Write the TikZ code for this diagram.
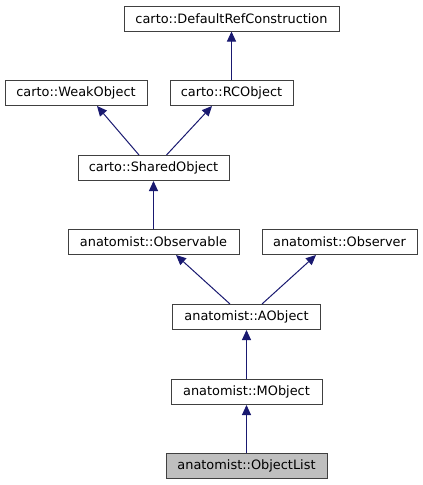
\documentclass[tikz,border=0pt]{standalone}
\usepackage{fontspec}
\setmainfont{DejaVu Sans}
\usetikzlibrary{arrows.meta}
\definecolor{edgeblue}{HTML}{191970}
\definecolor{boxgray}{HTML}{BFBFBF}
\definecolor{boxline}{HTML}{404040}
\begin{document}
\begin{tikzpicture}[x=1pt,y=-1pt,
  cls/.style={draw=boxline, line width=1pt, minimum height=25pt, inner sep=0pt, font=\fontsize{12.9}{15}\selectfont},
  inh/.style={draw=edgeblue, line width=1pt, -{Triangle[length=10pt,width=9pt]}}]
\useasboundingbox (0,0) rectangle (423,485);
\node[cls, minimum width=215pt] (drc) at (231.5,18.5) {carto::DefaultRefConstruction};
\node[cls, minimum width=142pt] (weak) at (76,93) {carto::WeakObject};
\node[cls, minimum width=123pt] (rc) at (231.5,93) {carto::RCObject};
\node[cls, minimum width=151pt] (shared) at (153.5,168) {carto::SharedObject};
\node[cls, minimum width=171pt] (obsable) at (153.5,242) {anatomist::Observable};
\node[cls, minimum width=155pt] (obser) at (339.5,242) {anatomist::Observer};
\node[cls, minimum width=148pt] (aobj) at (246.5,317) {anatomist::AObject};
\node[cls, minimum width=151pt] (mobj) at (246.5,392) {anatomist::MObject};
\node[cls, minimum width=161pt, fill=boxgray] (olist) at (246.5,466) {anatomist::ObjectList};
\draw[inh] (rc.north) -- (drc.south);
\draw[inh] ([xshift=-14.5pt]shared.north) -- ([xshift=21pt]weak.south);
\draw[inh] ([xshift=13pt]shared.north) -- ([xshift=-19.5pt]rc.south);
\draw[inh] (obsable.north) -- (shared.south);
\draw[inh] ([xshift=-16.5pt]aobj.north) -- ([xshift=22.5pt]obsable.south);
\draw[inh] ([xshift=15.5pt]aobj.north) -- ([xshift=-23.5pt]obser.south);
\draw[inh] (mobj.north) -- (aobj.south);
\draw[inh] (olist.north) -- (mobj.south);
\end{tikzpicture}
\end{document}
